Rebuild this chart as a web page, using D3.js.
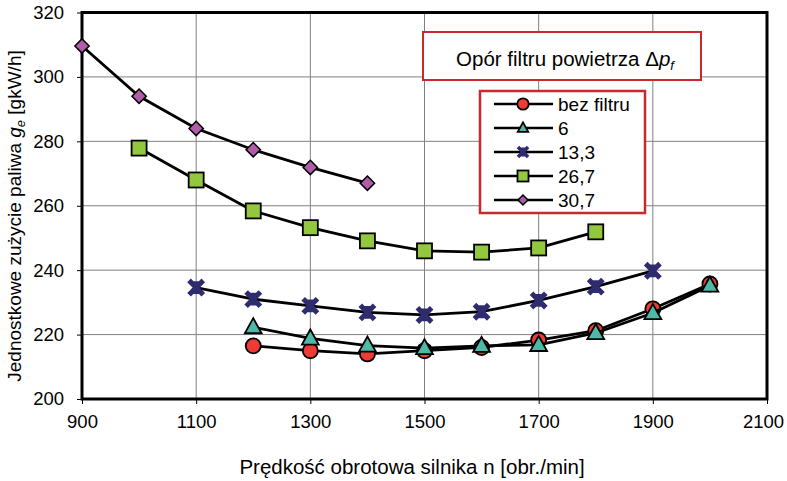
<!DOCTYPE html>
<html>
<head>
<meta charset="utf-8">
<title>Jednostkowe zużycie paliwa</title>
<script src="https://d3js.org/d3.v7.min.js"></script>
<style>
  body { margin: 0; background: white; }
  text { font-family: "Liberation Sans", Arial, sans-serif; fill: #000; }
  .grid line { stroke: #808080; stroke-width: 1; }
</style>
</head>
<body>
<div id="output"></div>
<script>

var rpm = [900, 1000, 1100, 1200, 1300, 1400, 1500, 1600, 1700, 1800, 1900, 2000];

var bezFiltru = [null, null, null, 216.5, 215, 214, 215, 216, 218.3, 221.2, 228, 235.7];
var s6 = [null, null, null, 222.3, 218.8, 216.6, 215.8, 216.5, 216.8, 220.5, 226.7, 235.2];
var s13 = [null, null, 234.6, 231, 228.9, 226.9, 226.1, 227.1, 230.6, 234.9, 239.8, null];
var s26 = [null, 277.9, 268, 258.4, 253.2, 249.1, 246, 245.6, 246.9, 251.9, null, null];
var s30 = [309.6, 294, 284, 277.4, 271.9, 267, null, null, null, null, null, null];

var seriesNames = ["bez filtru", "6", "13,3", "26,7", "30,7"];
var seriesValues = [bezFiltru, s6, s13, s26, s30];
var seriesColors = ["#ee3b33", "#4fb8a6", "#2e2c6e", "#93c740", "#b05ca9"];
var seriesShapes = ["circle", "triangle", "star", "square", "diamond"];

var xTicks = [900, 1100, 1300, 1500, 1700, 1900, 2100];
var yTicks = [200, 220, 240, 260, 280, 300, 320];

var w = 787, h = 481;
var margin = {top: 12.5, right: 20, bottom: 82, left: 82};
var wChart = w - margin.left - margin.right;
var hChart = h - margin.top - margin.bottom;

var x = d3.scaleLinear().domain([900, 2100]).range([0, wChart]);
var y = d3.scaleLinear().domain([200, 320]).range([hChart, 0]);

var svg = d3.select("#output").append("svg")
  .attr("width", w)
  .attr("height", h);

var chart = svg.append("g")
  .attr("transform", "translate(" + margin.left + "," + margin.top + ")");

// grid
var grid = chart.append("g").attr("class", "grid");
grid.selectAll(".vx").data(xTicks.slice(1, -1)).enter().append("line")
  .attr("x1", function(d){ return x(d); }).attr("x2", function(d){ return x(d); })
  .attr("y1", 0).attr("y2", hChart);
grid.selectAll(".hy").data(yTicks.slice(1, -1)).enter().append("line")
  .attr("x1", 0).attr("x2", wChart)
  .attr("y1", function(d){ return y(d); }).attr("y2", function(d){ return y(d); });

// axes
var xAxis = d3.axisBottom(x).tickValues(xTicks).tickSize(5).tickPadding(11)
  .tickFormat(d3.format("d"));
var yAxis = d3.axisLeft(y).tickValues(yTicks).tickSize(5).tickPadding(13)
  .tickFormat(d3.format("d"));

var gx = chart.append("g").attr("transform", "translate(0," + hChart + ")").call(xAxis);
var gy = chart.append("g").call(yAxis);
[gx, gy].forEach(function(g){
  g.select(".domain").remove();
  g.selectAll(".tick line").attr("stroke", "#000").attr("stroke-width", 1);
  g.selectAll(".tick text").style("font-size", "18.5px")
    .style("font-family", "'Liberation Sans', Arial, sans-serif");
});
// keep the last label inside the window
gx.selectAll(".tick text").filter(function(d){ return d === 2100; }).attr("dx", -4);

chart.append("rect")
  .attr("x", 0).attr("y", 0).attr("width", wChart).attr("height", hChart)
  .attr("fill", "none").attr("stroke", "#000").attr("stroke-width", 3);

// axis titles
svg.append("text")
  .attr("x", 412).attr("y", 474)
  .attr("text-anchor", "middle").style("font-size", "20.5px")
  .text("Prędkość obrotowa silnika n [obr./min]");

var yt = svg.append("text")
  .attr("transform", "translate(21,216) rotate(-90)")
  .attr("text-anchor", "middle").style("font-size", "19px");
yt.append("tspan").text("Jednostkowe zużycie paliwa ");
yt.append("tspan").style("font-style", "italic").text("g");
yt.append("tspan").attr("dy", 4).style("font-size", "13px").style("font-style", "italic").text("e");
yt.append("tspan").attr("dy", -4).text(" [gkW/h]");

// markers
function drawMarker(g, shape, color, size) {
  var s = size;
  if (shape === "circle") {
    g.append("circle").attr("r", s * 0.52).attr("fill", color)
      .attr("stroke", "#000").attr("stroke-width", 1.8);
  } else if (shape === "triangle") {
    g.append("path").attr("d", "M0," + (-s * 0.62) + "L" + (s * 0.58) + "," + (s * 0.42) + "L" + (-s * 0.58) + "," + (s * 0.42) + "Z")
      .attr("fill", color).attr("stroke", "#000").attr("stroke-width", 1.8);
  } else if (shape === "square") {
    g.append("rect").attr("x", -s / 2).attr("y", -s / 2).attr("width", s).attr("height", s)
      .attr("fill", color).attr("stroke", "#000").attr("stroke-width", 1.8);
  } else if (shape === "diamond") {
    var d = s * 0.55;
    g.append("path").attr("d", "M0," + (-d) + "L" + d + ",0L0," + d + "L" + (-d) + ",0Z")
      .attr("fill", color).attr("stroke", "#000").attr("stroke-width", 1.5);
  } else if (shape === "star") {
    var a = s * 0.42;
    g.append("path")
      .attr("d", "M" + (-a) + "," + (-a) + "L" + a + "," + a + "M" + a + "," + (-a) + "L" + (-a) + "," + a + "M0," + (-a * 0.9) + "L0," + (a * 0.9))
      .attr("stroke", color).attr("stroke-width", s * 0.3).attr("fill", "none");
  }
}

var sizes = {circle: 14.5, triangle: 14.5, star: 17, square: 15, diamond: 13};
var legendSizes = {circle: 11, triangle: 9, star: 12, square: 11, diamond: 9};

var line = d3.line()
  .defined(function(d){ return d[1] !== null; })
  .x(function(d){ return x(d[0]); })
  .y(function(d){ return y(d[1]); });

// draw series in reverse so "bez filtru" and "6" end on top
[4, 3, 2, 0, 1].forEach(function(i){
  var pts = rpm.map(function(r, j){ return [r, seriesValues[i][j]]; });
  chart.append("path").datum(pts)
    .attr("d", line).attr("fill", "none")
    .attr("stroke", "#000").attr("stroke-width", 2.8);
  pts.filter(function(p){ return p[1] !== null; }).forEach(function(p){
    var g = chart.append("g").attr("transform", "translate(" + x(p[0]) + "," + y(p[1]) + ")");
    drawMarker(g, seriesShapes[i], seriesColors[i], sizes[seriesShapes[i]]);
  });
});

// title box
svg.append("rect").attr("x", 423).attr("y", 32).attr("width", 278).attr("height", 48)
  .attr("fill", "white").attr("stroke", "#c9282d").attr("stroke-width", 2);
var tt = svg.append("text").attr("x", 565).attr("y", 65.5).attr("text-anchor", "middle")
  .style("font-size", "20.5px");
tt.append("tspan").text("Opór filtru powietrza Δ");
tt.append("tspan").style("font-style", "italic").text("p");
tt.append("tspan").attr("dy", 4).style("font-size", "13px").style("font-style", "italic").text("f");

// legend
svg.append("rect").attr("x", 480).attr("y", 91).attr("width", 165).attr("height", 122)
  .attr("fill", "white").attr("stroke", "#c9282d").attr("stroke-width", 2.5);
seriesNames.forEach(function(name, i){
  var ly = 104 + i * 24;
  var g = svg.append("g").attr("transform", "translate(0," + ly + ")");
  g.append("line").attr("x1", 494).attr("x2", 553).attr("y1", 0).attr("y2", 0)
    .attr("stroke", "#000").attr("stroke-width", 2.6);
  var m = g.append("g").attr("transform", "translate(523,0)");
  drawMarker(m, seriesShapes[i], seriesColors[i], legendSizes[seriesShapes[i]]);
  g.append("text").attr("x", 558).attr("y", 7).style("font-size", "19px").text(name);
});

</script>
</body>
</html>
